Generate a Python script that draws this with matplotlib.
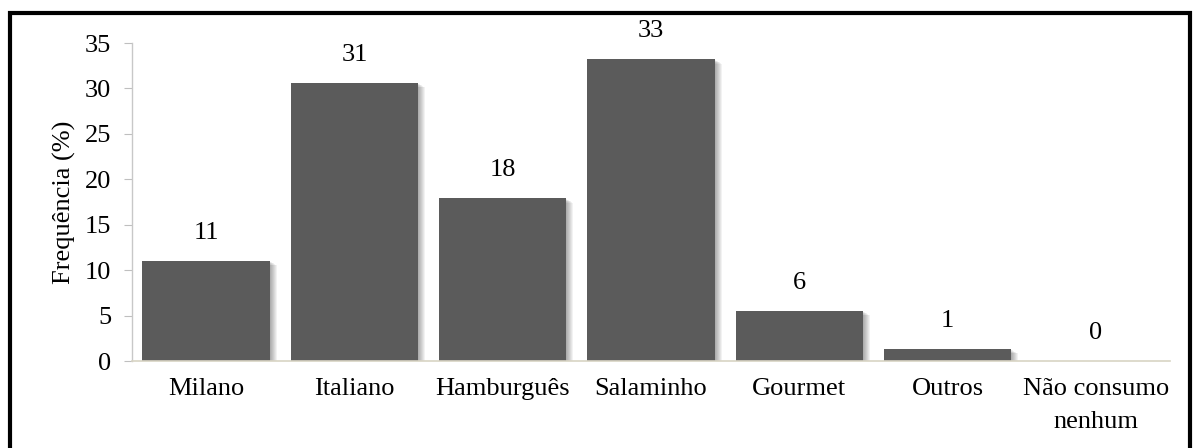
import matplotlib.pyplot as plt
from matplotlib.patches import Rectangle

categorias = ['Milano', 'Italiano', 'Hamburguês', 'Salaminho', 'Gourmet', 'Outros', 'Não consumo\nnenhum']
frequencia = [11.0, 30.6, 17.9, 33.2, 5.5, 1.3, 0.0]
rotulos = ['11', '31', '18', '33', '6', '1', '0']
yticks = [0, 5, 10, 15, 20, 25, 30, 35]

plt.rcParams['font.family'] = ['Liberation Serif', 'DejaVu Serif']
fs = 19

W, H = 1194, 448
fig = plt.figure(figsize=(W / 100, H / 100), dpi=100)
ax = fig.add_axes([132 / W, 87 / H, (1170 - 132) / W, (405 - 87) / H])

x = list(range(len(categorias)))
largura = 0.86
px = (len(categorias)) / (1170 - 132)  # one pixel in data units (x)
py = 35 / (405 - 87)

# soft shadow to the right / below of each bar
for k in range(1, 8):
    ax.bar([i + k * px for i in x], [max(v - k * py * 0.3, 0) for v in frequencia],
           width=largura, bottom=[-k * py * 0.3 if v > 0 else 0 for v in frequencia],
           color='#000000', alpha=0.05, zorder=1, linewidth=0)

ax.bar(x, frequencia, width=largura, color='#5b5b5b', zorder=2, linewidth=0)

for i, (v, r) in enumerate(zip(frequencia, rotulos)):
    ax.text(i, v + 1.9, r, ha='center', va='bottom', fontsize=fs)

ax.set_xlim(-0.5, len(categorias) - 0.5)
ax.set_ylim(0, 35)
ax.set_yticks(yticks)
ax.set_xticks(x)
ax.set_xticklabels(categorias, fontsize=fs, linespacing=1.65, va='top')
ax.tick_params(axis='y', labelsize=fs, length=6, color='#bfbfbf', pad=9)
ax.tick_params(axis='x', length=0, pad=12)
ax.set_ylabel('Frequência (%)', fontsize=fs, labelpad=6)

for s in ['top', 'right']:
    ax.spines[s].set_visible(False)
ax.spines['left'].set_color('#c8c8c8')
ax.spines['bottom'].set_color('#d8d4c4')
ax.spines['left'].set_linewidth(1)
ax.spines['bottom'].set_linewidth(1.2)

# outer frame
fig.patches.append(Rectangle((10 / W, -0.02), (1190 - 10) / W, (H - 13) / H + 0.02,
                             transform=fig.transFigure, fill=False,
                             edgecolor='black', linewidth=3))

fig.savefig('out.png', dpi=100)
